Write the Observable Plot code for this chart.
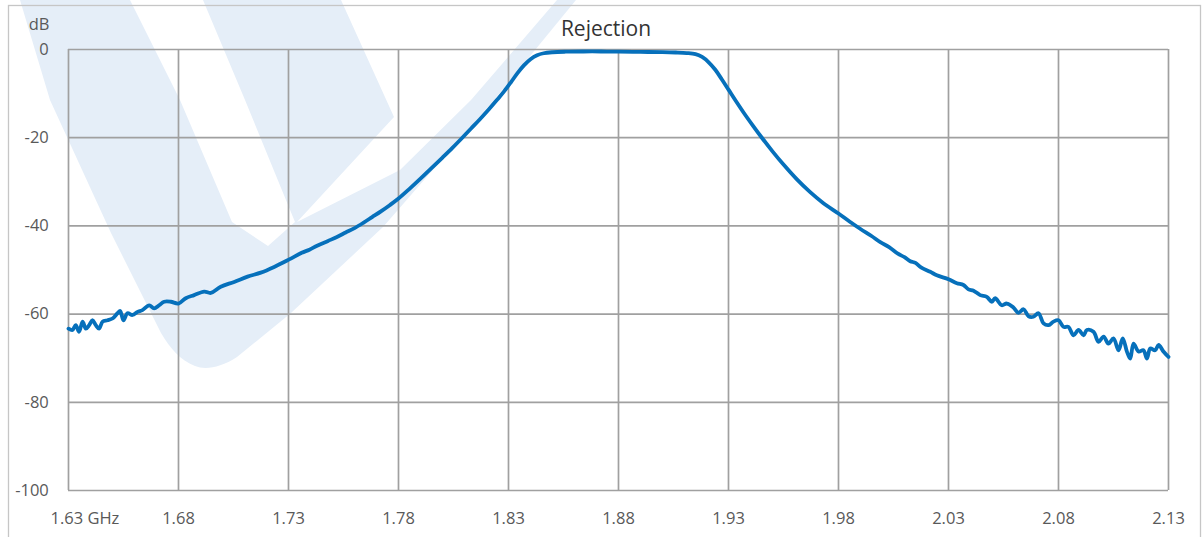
<!DOCTYPE html>
<html>
<head>
<meta charset="utf-8">
<script src="https://cdn.jsdelivr.net/npm/d3@7"></script>
<script src="https://cdn.jsdelivr.net/npm/@observablehq/plot@0.6"></script>
<style>
  html, body { margin: 0; padding: 0; background: #ffffff; overflow: hidden; }
  #wrap { position: relative; width: 1204px; height: 537px; }
  #wrap > svg { position: absolute; left: 0; top: 0; }
</style>
</head>
<body>
<div id="wrap">
  <svg id="deco" width="1204" height="537" viewBox="0 0 1204 537">
    <path fill="#e5eef8" d="M20,0 L576,0 L494,100 L383,227 L291,313 L237,357 C220,368 205,370 195,366 C180,360 170,348 161,333 L111,233 L50,100 Z"/>
    <path fill="#ffffff" d="M130,0 L180,100 L232,222 L268,246 L295,222 L245,100 L203,0 Z"/>
    <path fill="#ffffff" d="M341,0 L394,117 L297,222 L400,170 L471,100 L557,0 Z"/>
    <rect x="8.5" y="5.5" width="1192" height="560" fill="none" stroke="#c6c6c6" stroke-width="1.3"/>
  </svg>
</div>
<script>
const chartTitle = "Rejection";
const yUnit = "dB";
const xTicks = [1.63, 1.68, 1.73, 1.78, 1.83, 1.88, 1.93, 1.98, 2.03, 2.08, 2.13];
const xTickLabels = ["1.63 GHz", "1.68", "1.73", "1.78", "1.83", "1.88", "1.93", "1.98", "2.03", "2.08", "2.13"];
const yTicks = [0, -20, -40, -60, -80, -100];
const yTickLabels = ["0", "-20", "-40", "-60", "-80", "-100"];

const freqGHz = [
  1.6300,1.6318,1.6333,1.6348,1.6364,1.6379,1.6394,1.6409,1.6424,1.6439,1.6455,1.6477,1.6500,1.6523,1.6535,1.6550,1.6568,1.6591,1.6614,1.6636,1.6667,1.6689,1.6712,1.6735,1.6765,1.6800,1.6833,1.6871,1.6917,1.6947,1.6992,1.7053,1.7114,1.7174,1.7235,1.7303,
  1.7360,1.7395,1.7430,1.7480,1.7520,1.7560,1.7600,1.7640,1.7680,1.7720,1.7760,1.7800,1.7850,1.7900,1.7950,1.8000,1.8045,1.8090,1.8130,1.8170,1.8210,1.8250,1.8280,1.8310,1.8340,1.8370,1.8400,1.8430,1.8460,
  1.8500,1.8560,1.8640,1.8720,1.8800,1.8900,1.9000,1.9060,1.9110,1.9150,
  1.9180,1.9210,1.9240,1.9270,1.9300,1.9335,1.9370,1.9410,1.9450,1.9500,1.9550,1.9610,1.9670,1.9730,1.9800,1.9850,1.9900,1.9950,1.9990,2.0030,2.0070,2.0100,2.0126,2.0150,2.0175,2.0217,
  2.0247,2.0300,2.0338,2.0368,2.0391,2.0414,2.0444,2.0474,2.0497,2.0512,2.0542,2.0565,2.0595,2.0618,2.0641,2.0664,2.0686,2.0709,2.0732,2.0755,2.0777,2.0800,2.0823,2.0845,2.0868,2.0891,2.0914,2.0929,2.0959,2.0982,2.1005,2.1027,2.1050,2.1073,2.1092,2.1111,2.1126,2.1141,2.1164,2.1186,2.1202,2.1217,2.1239,2.1255,2.1277,2.1300
];
const rejectionDb = [
  -63.3,-63.6,-62.5,-64.0,-61.7,-63.3,-62.5,-61.4,-62.5,-63.3,-61.7,-61.4,-61.0,-59.8,-59.3,-61.4,-59.8,-60.2,-59.5,-59.1,-58.0,-58.7,-58.0,-57.2,-57.2,-57.6,-56.4,-55.7,-54.9,-55.2,-53.8,-52.7,-51.5,-50.6,-49.3,-47.6,
  -46.1,-45.4,-44.5,-43.4,-42.5,-41.5,-40.5,-39.3,-38.0,-36.7,-35.3,-33.8,-31.6,-29.3,-26.9,-24.5,-22.3,-20.0,-17.9,-15.8,-13.6,-11.3,-9.5,-7.5,-5.4,-3.6,-2.2,-1.3,-0.85,
  -0.62,-0.5,-0.45,-0.45,-0.5,-0.55,-0.6,-0.68,-0.8,-1.05,
  -1.7,-2.9,-4.6,-6.8,-9.1,-11.8,-14.4,-17.2,-19.9,-23.1,-26.1,-29.4,-32.3,-34.8,-37.2,-39.0,-40.7,-42.3,-43.7,-44.8,-46.3,-47.1,-48.0,-48.4,-49.4,-50.4,
  -51.2,-52.1,-53.0,-53.4,-54.4,-54.7,-55.7,-56.1,-57.2,-56.4,-58.0,-57.6,-58.5,-59.7,-58.9,-60.5,-60.6,-59.8,-62.1,-62.5,-61.7,-61.4,-62.9,-62.9,-64.8,-63.6,-64.8,-63.6,-64.0,-66.3,-65.1,-66.7,-65.5,-68.2,-65.5,-68.5,-70.1,-66.7,-68.5,-68.2,-70.1,-67.8,-68.2,-67.0,-68.5,-69.7
];

const n = Math.min(freqGHz.length, rejectionDb.length);
const data = d3.range(n).map(i => ({f: freqGHz[i], db: rejectionDb[i]}));

const gridColor = "#a0a0a0";
const labelColor = "#595959";
const fs = 16.5;

const chart = Plot.plot({
  width: 1204,
  height: 537,
  marginLeft: 68,
  marginRight: 36,
  marginTop: 49,
  marginBottom: 47,
  style: {background: "transparent", fontFamily: "'Open Sans', 'DejaVu Sans', sans-serif", overflow: "visible"},
  x: {domain: [1.63, 2.13]},
  y: {domain: [-100, 0]},
  marks: [
    Plot.gridX({ticks: xTicks, stroke: gridColor, strokeOpacity: 1, strokeWidth: 1.7}),
    Plot.gridY({ticks: yTicks, stroke: gridColor, strokeOpacity: 1, strokeWidth: 1.7}),
    Plot.axisX({ticks: xTicks, tickSize: 0, tickPadding: 21.5, fontSize: fs, fill: labelColor, label: null,
      tickFormat: (d) => { const i = xTicks.indexOf(d); return i <= 0 ? "" : xTickLabels[i]; }}),
    Plot.text([{f: xTicks[0], label: xTickLabels[0]}], {x: "f", text: "label", frameAnchor: "bottom",
      lineAnchor: "top", textAnchor: "start", dx: -18, dy: 21.5, fontSize: fs, fill: labelColor}),
    Plot.axisY({ticks: yTicks, tickSize: 0, tickPadding: 19.7, fontSize: fs, fill: labelColor, label: null,
      tickFormat: (d) => yTickLabels[yTicks.indexOf(d)]}),
    Plot.text([yUnit], {frameAnchor: "top-left", textAnchor: "end", lineAnchor: "middle", dx: -19, dy: -25,
      fontSize: fs, fill: labelColor}),
    Plot.text([chartTitle], {frameAnchor: "top", lineAnchor: "middle", dx: -12.5, dy: -20, fontSize: 21, fill: "#333333"}),
    Plot.line(data, {x: "f", y: "db", stroke: "#0670bb", strokeWidth: 3.8, curve: "catmull-rom", strokeLinejoin: "round"})
  ]
});
document.getElementById("wrap").appendChild(chart);
</script>
</body>
</html>
